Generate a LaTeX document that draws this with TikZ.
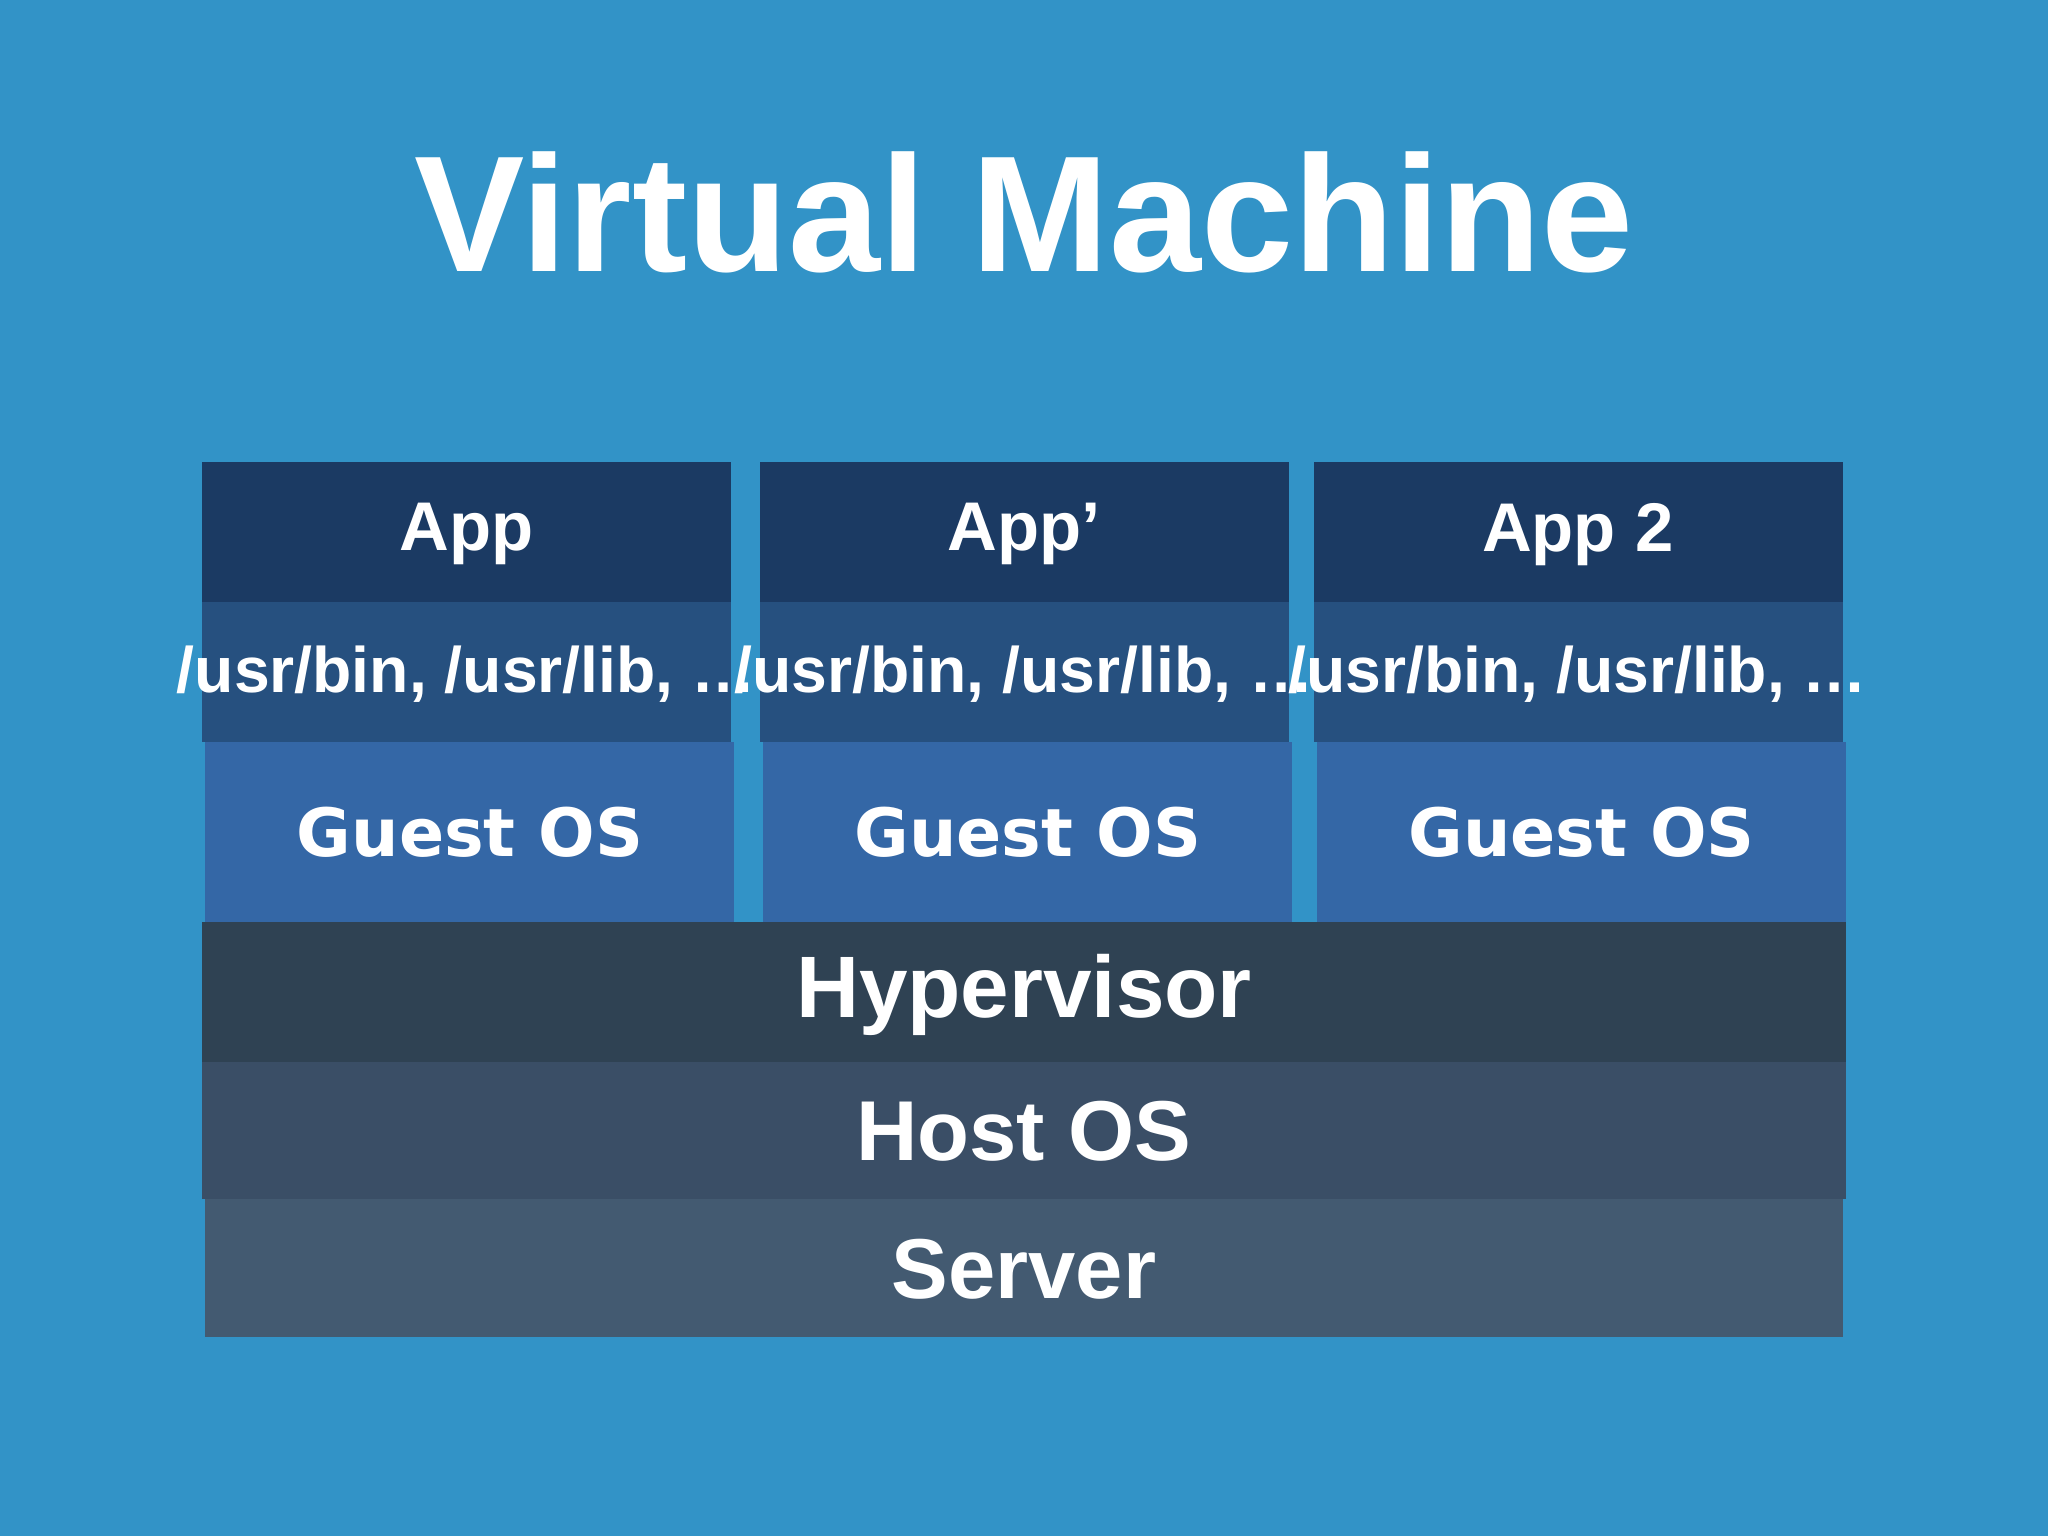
\documentclass[tikz,border=0pt]{standalone}
\usepackage{fontspec}
\setmainfont{Liberation Sans}
\newfontfamily\gfont{DejaVu Sans}
\begin{document}
\begin{tikzpicture}[x=0.01cm,y=-0.01cm,
  blk/.style={inner sep=0pt,text=white,font=\bfseries},
  lbl/.style={text=white,inner sep=0pt,anchor=center}]
\definecolor{bg}{HTML}{3293C7}
\definecolor{appc}{HTML}{1B3A63}
\definecolor{libc}{HTML}{26507F}
\definecolor{gosc}{HTML}{3467A6}
\definecolor{hypc}{HTML}{2F4253}
\definecolor{hostc}{HTML}{3A4E66}
\definecolor{srvc}{HTML}{435A71}
\fill[bg] (0,0) rectangle (1568,1176);
\useasboundingbox (0,0) rectangle (1568,1176);
\node[lbl,font=\fontsize{36}{40}\selectfont\bfseries] (title) at (784,163) {Virtual Machine};
\foreach \x/\t/\n in {155/App/a,582/App'/b,1006/App 2/c}{
  \fill[appc] (\x,354) rectangle ++(405,107);
  \node[lbl,font=\fontsize{15}{18}\selectfont\bfseries] (app\n) at (\x+202,409) {\t};
  \fill[libc] (\x,461) rectangle ++(405,107);
  \node[lbl,font=\fontsize{14}{17}\selectfont\bfseries] (lib\n) at (\x+202,516) {/usr/bin, /usr/lib, \dots};
  \fill[gosc] (\x+2,568) rectangle ++(405,138);
  \node[lbl,font=\fontsize{14.5}{17}\gfont\bfseries] (gos\n) at (\x+205,637) {Guest OS};
}
\fill[hypc] (155,706) rectangle (1413,813);
\node[lbl,font=\fontsize{19}{22}\selectfont\bfseries] (hyp) at (784,762) {Hypervisor};
\fill[hostc] (155,813) rectangle (1413,918);
\node[lbl,font=\fontsize{18.5}{22}\selectfont\bfseries] (host) at (784,866) {Host OS};
\fill[srvc] (157,918) rectangle (1411,1024);
\node[lbl,font=\fontsize{18.5}{22}\selectfont\bfseries] (srv) at (784,972) {Server};
\end{tikzpicture}
\end{document}
